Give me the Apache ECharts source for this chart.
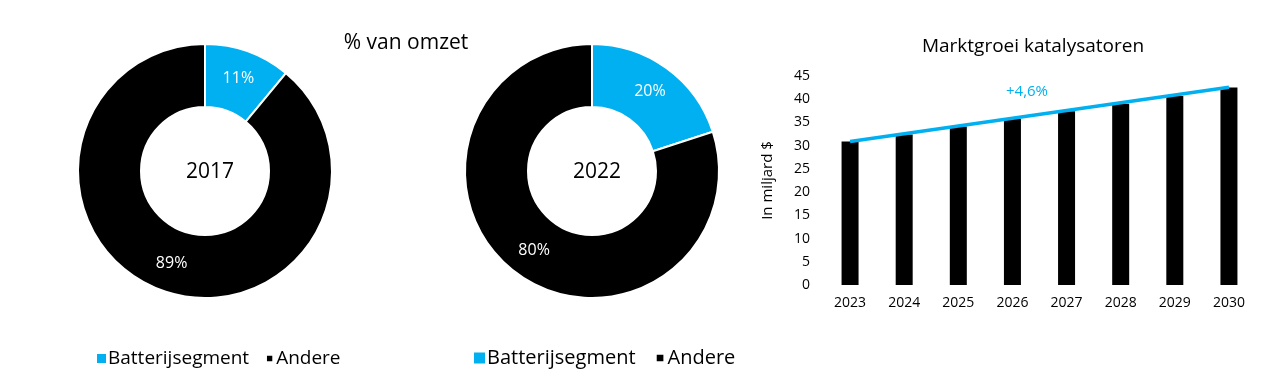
<!DOCTYPE html>
<html>
<head>
<meta charset="utf-8">
<script src="https://cdn.jsdelivr.net/npm/echarts@6/dist/echarts.min.js"></script>
<style>
  html, body { margin: 0; padding: 0; background: #fff; }
  #chart { width: 1262px; height: 376px; }
</style>
</head>
<body>
<div id="chart"></div>
<script>
// donut data
const segments = ['Batterijsegment', 'Andere']
const share2017 = [11, 89]
const share2022 = [20, 80]

// bar data
const years = ['2023', '2024', '2025', '2026', '2027', '2028', '2029', '2030']
const marketValues = [30.9, 32.4, 34.1, 35.8, 37.4, 39.0, 40.7, 42.5]
const trendValues = [30.9, null, null, null, null, null, null, 42.6]

const blue = '#00b0f0'
const font = 'Open Sans'
// small square with padding so it draws smaller than the legend box
const smallSquare = 'path://M0,0M12,12M2,2L10,2L10,10L2,10Z'

function pieData(values) {
  return segments.map((name, i) => ({ name: name, value: values[i] }))
}

function donut(center, values) {
  return {
    type: 'pie',
    center: center,
    radius: [64, 127],
    startAngle: 90,
    clockwise: true,
    silent: true,
    color: [blue, '#000'],
    itemStyle: { borderColor: '#fff', borderWidth: 2 },
    label: {
      position: 'inside',
      formatter: '{c}%',
      color: '#fff',
      fontFamily: font,
      fontSize: 16
    },
    labelLine: { show: false },
    data: pieData(values)
  }
}

const chart = echarts.init(document.getElementById('chart'))

chart.setOption({
  animation: false,
  textStyle: { fontFamily: font },
  title: [
    { text: '% van omzet', left: 401, top: 28, textAlign: 'center',
      textStyle: { fontSize: 21, fontWeight: 'normal', color: '#000' } },
    { text: '2017', left: 205, top: 157, textAlign: 'center',
      textStyle: { fontSize: 21, fontWeight: 'normal', color: '#000' } },
    { text: '2022', left: 592, top: 157, textAlign: 'center',
      textStyle: { fontSize: 21, fontWeight: 'normal', color: '#000' } },
    { text: 'Marktgroei katalysatoren', left: 1028, top: 32, textAlign: 'center',
      textStyle: { fontSize: 19, fontWeight: 'normal', color: '#000' } },
    { text: '+4,6%', left: 1022, top: 79, textAlign: 'center',
      textStyle: { fontSize: 15, fontWeight: 'normal', color: blue } }
  ],
  legend: [
    {
      data: [
        { name: segments[0], icon: 'rect' },
        { name: segments[1], icon: smallSquare }
      ],
      left: 90, top: 344, icon: 'rect',
      itemWidth: 11, itemHeight: 11, itemGap: 14,
      textStyle: { fontSize: 19, color: '#000', padding: [0, 0, 0, -4] },
      selectedMode: false
    },
    {
      data: [
        { name: segments[0], icon: 'rect' },
        { name: segments[1], icon: smallSquare }
      ],
      left: 467, top: 343, icon: 'rect',
      itemWidth: 13, itemHeight: 13, itemGap: 17,
      textStyle: { fontSize: 20, color: '#000', padding: [0, 0, 0, -4] },
      selectedMode: false
    }
  ],
  grid: { left: 823, right: 6, top: 76, bottom: 91 },
  xAxis: {
    type: 'category',
    data: years,
    axisLine: { show: false },
    axisTick: { show: false },
    axisLabel: { color: '#000', fontSize: 14, margin: 11 }
  },
  yAxis: {
    type: 'value',
    min: 0,
    max: 45,
    interval: 5,
    name: 'In miljard $',
    nameLocation: 'middle',
    nameRotate: 90,
    nameGap: 48,
    nameTextStyle: { color: '#000', fontSize: 15 },
    axisLine: { show: false },
    axisTick: { show: false },
    splitLine: { show: false },
    axisLabel: { color: '#000', fontSize: 14, margin: 13 }
  },
  series: [
    donut([205, 171], share2017),
    donut([592, 171], share2022),
    {
      type: 'bar',
      data: marketValues,
      barWidth: 17,
      itemStyle: { color: '#000' },
      silent: true
    },
    {
      type: 'line',
      data: trendValues,
      connectNulls: true,
      symbol: 'none',
      lineStyle: { color: blue, width: 3.5 },
      silent: true,
      z: 5
    }
  ]
})
</script>
</body>
</html>
